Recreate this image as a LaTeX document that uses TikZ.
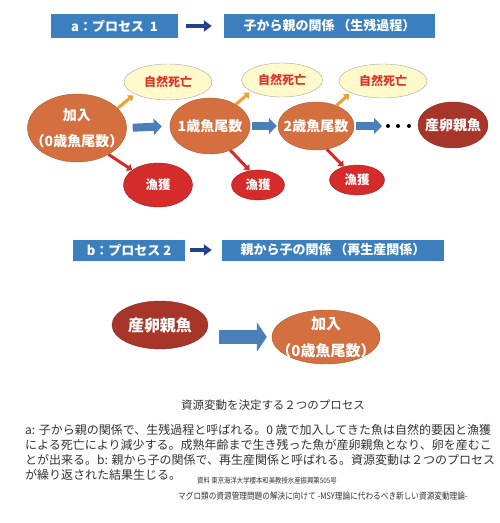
\documentclass[tikz,border=0pt]{standalone}
\usepackage{fontspec}
\setmainfont{Noto Sans CJK JP}
\usetikzlibrary{arrows.meta,shapes.geometric}
\definecolor{hdblue}{HTML}{3C7FBF}
\definecolor{navy}{HTML}{22408C}
\definecolor{blkblue}{HTML}{4B7FBA}
\definecolor{agec}{HTML}{D4703F}
\definecolor{agedk}{HTML}{A95A32}
\definecolor{spawnc}{HTML}{A8352A}
\definecolor{catchc}{HTML}{D62B2B}
\definecolor{deathbg}{HTML}{FFF9CC}
\definecolor{deathtx}{HTML}{E0352B}
\definecolor{natar}{HTML}{F0A030}
\definecolor{txtc}{HTML}{333333}
\tikzset{
  hd/.style={fill=hdblue,text=white,font=\bfseries\fontsize{13}{13}\selectfont,minimum height=24pt,inner sep=0pt},
  hdar/.style={-{Triangle[length=8pt,width=11pt]},line width=4pt,navy},
  nd/.style={ellipse,draw=agedk,fill=agec,text=white,inner sep=-12pt,align=center,font=\bfseries\fontsize{14}{26}\selectfont},
  dth/.style={ellipse,draw=black!35,fill=deathbg,text=deathtx,inner sep=-12pt,font=\bfseries\fontsize{12}{12}\selectfont},
  cat/.style={ellipse,draw=catchc!70!black,fill=catchc,text=white,inner sep=-12pt,font=\bfseries\fontsize{12.5}{12.5}\selectfont},
  bar/.style={-{Triangle[length=8pt,width=16pt]},line width=8pt,blkblue},
  nat/.style={-{Triangle[length=5pt,width=8pt]},line width=3pt,natar},
  fis/.style={-{Triangle[length=5pt,width=8pt]},line width=3pt,catchc}
}
\begin{document}
\begin{tikzpicture}[x=1pt,y=-1pt]
\useasboundingbox (0,0) rectangle (500,523);
% process a
\node[hd,minimum width=127pt] (A1) at (114.5,26) {a：プロセス\ \ 1};
\node[hd,minimum width=211pt] (A2) at (329.5,26) {子から親の関係 （生残過程）};
\draw[hdar,shorten <=8pt,shorten >=12pt] (A1) -- (A2);
\node[nd,minimum width=99pt,minimum height=68pt] (J0) at (77,128) {加入\\（0歳魚尾数）};
\node[nd,minimum width=80pt,minimum height=56pt] (N1) at (210,126) {1歳魚尾数};
\node[nd,minimum width=76pt,minimum height=48pt] (N2) at (316,126) {2歳魚尾数};
\node[nd,fill=spawnc,draw=spawnc!80!black,minimum width=70pt,minimum height=46pt] (S1) at (453,125) {産卵親魚};
\coordinate (dots) at (382,126);
\foreach \x in {388,398,409} \fill (\x,126) circle (2pt);
\draw[bar,shorten <=6pt,shorten >=8pt] (J0.east) -- (N1.west);
\draw[bar,shorten <=2pt,shorten >=1pt] (N1.east) -- (N2.west);
\draw[bar,shorten <=2pt] (N2.east) -- (dots);
% natural death
\node[dth,minimum width=88pt,minimum height=36pt] (D1) at (168,82) {自然死亡};
\node[dth,minimum width=81pt,minimum height=34pt] (D2) at (282,80) {自然死亡};
\node[dth,minimum width=88pt,minimum height=34pt] (D3) at (383,81) {自然死亡};
\draw[nat,shorten >=2pt] (J0.26) -- (D1.200);
\draw[nat,shorten >=2pt] (N1.40) -- (D2.200);
\draw[nat,shorten >=2pt] (N2.45) -- (D3.200);
% fishing
\node[cat,minimum width=69pt,minimum height=44pt] (F1) at (158,185) {漁獲};
\node[cat,minimum width=53pt,minimum height=30pt] (F2) at (258,185) {漁獲};
\node[cat,minimum width=55pt,minimum height=30pt] (F3) at (357,180) {漁獲};
\draw[fis] (J0.320) -- (F1.150);
\draw[fis] (N1.310) -- (F2.120);
\draw[fis] (N2.295) -- (F3.135);
% process b
\node[hd,minimum width=112pt,minimum height=21pt] (B1) at (129,250) {b：プロセス 2};
\node[hd,minimum width=222pt,minimum height=21pt] (B2) at (333,250) {親から子の関係 （再生産関係）};
\draw[hdar,shorten <=5pt,shorten >=10pt] (B1) -- (B2);
\node[nd,fill=spawnc,draw=spawnc!80!black,font=\bfseries\fontsize{16}{16}\selectfont,minimum width=96pt,minimum height=48pt] (S2) at (160,325) {産卵親魚};
\node[nd,font=\bfseries\fontsize{15}{27}\selectfont,minimum width=108pt,minimum height=54pt] (J2) at (326,337) {加入\\（0歳魚尾数）};
\draw[bar,line width=14pt,-{Triangle[length=10pt,width=29pt]},shorten <=11pt,shorten >=5pt] (S2.east |- J2.west) -- (J2.west);
% caption
\node[text=txtc,font=\fontsize{11.5}{11.5}\selectfont] (cap) at (273,405) {資源変動を決定する２つのプロセス};
\begin{scope}[every node/.style={anchor=west,inner sep=0pt,text=txtc,font=\fontsize{12}{12}\selectfont}]
\node (L1) at (25,430) {a: 子から親の関係で、生残過程と呼ばれる。0 歳で加入してきた魚は自然的要因と漁獲};
\node (L2) at (25,445) {による死亡により減少する。成熟年齢まで生き残った魚が産卵親魚となり、卵を産むこ};
\node (L3) at (25,460) {とが出来る。b: 親から子の関係で、再生産関係と呼ばれる。資源変動は２つのプロセス};
\node (L4) at (25,475) {が繰り返された結果生じる。};
\end{scope}
\node[anchor=west,inner sep=0pt,text=txtc,font=\fontsize{7.5}{7.5}\selectfont] (src1) at (197,481) {\scalebox{0.85}[1]{資料 東京海洋大学櫻本和美教授水産振興第505号}};
\node[anchor=west,inner sep=0pt,text=txtc,font=\fontsize{9}{9}\selectfont] (src2) at (178,496) {\scalebox{0.85}[1]{マグロ類の資源管理問題の解決に向けて -MSY理論に代わるべき新しい資源変動理論-}};
\end{tikzpicture}
\end{document}
